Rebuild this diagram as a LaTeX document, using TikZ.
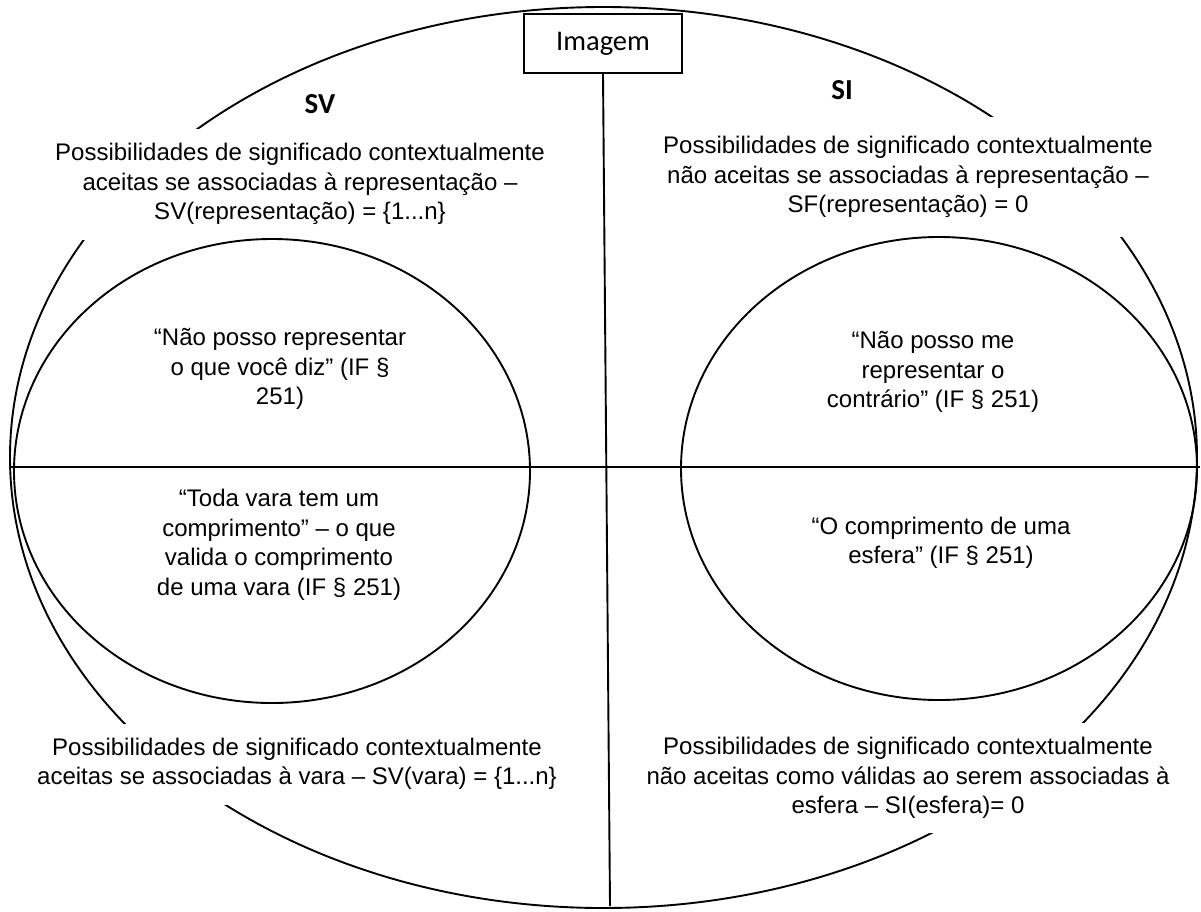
\documentclass[tikz,border=0pt]{standalone}
\usepackage{fontspec}
\setmainfont{Liberation Sans}
\newfontfamily\calibri{Carlito}
\usepackage{tikz}
\usetikzlibrary{shapes.geometric}

\begin{document}
\begin{tikzpicture}[
  x=1pt, y=-1pt,
  line width=1.9pt,
  oval/.style={draw, ellipse, inner sep=0pt},
  txt/.style={align=center, inner xsep=3pt, inner ysep=0pt, font={\fontsize{24}{29.5}\selectfont}},
  gap/.style={txt, fill=white},
  label/.style={font={\calibri\bfseries\fontsize{29}{34}\selectfont}}
]
\useasboundingbox (0,0) rectangle (1201,911);

% Outer ellipse and axes
\node[oval, minimum width=1187pt, minimum height=901pt] (outer) at (603.5,457.5) {};
\node[draw, fill=white, minimum width=158pt, minimum height=59pt, inner sep=0pt,
  font={\calibri\fontsize{28.5}{33}\selectfont}] (imagem) at (603,43.5) {Imagem};
\coordinate (bottom) at (610,906);
\coordinate (west) at (11,467);
\coordinate (east) at (1200,467);
\draw (imagem.south) -- (bottom);
\draw (west) -- (east);

% Outer texts
\node[gap, minimum height=111pt] (svrep) at (300,184)
  {Possibilidades de significado contextualmente\\aceitas se associadas à representação –\\SV(representação) = \{1...n\}};
\node[gap, minimum height=120pt] (sirep) at (908,177)
  {Possibilidades de significado contextualmente\\não aceitas se associadas à representação –\\SF(representação) = 0};
\node[gap, minimum height=81pt] (svvara) at (297,764)
  {Possibilidades de significado contextualmente\\aceitas se associadas à vara – SV(vara) = \{1...n\}};
\node[gap, minimum height=110pt] (siesfera) at (908,778)
  {Possibilidades de significado contextualmente\\não aceitas como válidas ao serem associadas à\\esfera – SI(esfera)= 0};

% Labels
\node[label] (sv) at (320,104) {SV};
\node[label] (si) at (842,90) {SI};

% Inner ellipses
\node[oval, minimum width=516pt, minimum height=464pt] (leftoval) at (272,471) {};
\node[oval, minimum width=516pt, minimum height=463pt] (rightoval) at (939,468.5) {};

% Inner texts
\node[txt] (dizer) at (280,369) {“Não posso representar\\o que você diz” (IF §\\251)};
\node[txt] (vara) at (279,545) {“Toda vara tem um\\comprimento” – o que\\valida o comprimento\\de uma vara (IF § 251)};
\node[txt] (contrario) at (933,372) {“Não posso me\\representar o\\contrário” (IF § 251)};
\node[txt] (esfera) at (941,543) {“O comprimento de uma\\esfera” (IF § 251)};

\end{tikzpicture}
\end{document}
